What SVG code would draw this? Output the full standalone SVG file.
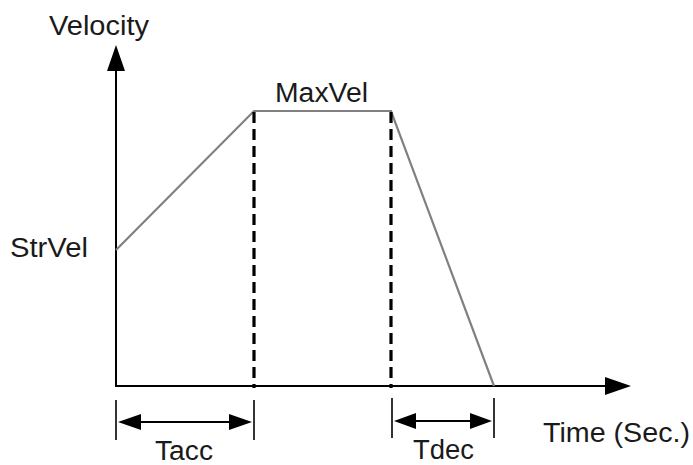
<svg xmlns="http://www.w3.org/2000/svg" width="693" height="465" viewBox="0 0 693 465">
  <style>
    .label { font-family: "Liberation Sans", Arial, sans-serif; font-size: 27px; fill: #1a1a1a; }
    .axis { stroke: #000; stroke-width: 2; fill: none; }
    .profile { stroke: #808080; stroke-width: 2.2; fill: none; stroke-linejoin: miter; }
    .guide { stroke: #000; stroke-width: 3.2; stroke-dasharray: 11 6; fill: none; }
    .tick { stroke: #000; stroke-width: 1.6; fill: none; }
    .dim { stroke: #000; stroke-width: 2; fill: none; }
    .head { fill: #000; }
  </style>
  <rect width="693" height="465" fill="#fff"/>

  <g id="connectors">
    <!-- axes -->
    <g id="axes">
      <line class="axis" x1="116" y1="387" x2="116" y2="68"/>
      <polygon class="head" points="116,45 107,71 125,71"/>
      <line class="axis" x1="116" y1="386" x2="608" y2="386"/>
      <polygon class="head" points="631,386 605,377 605,395"/>
    </g>

    <!-- velocity profile -->
    <polyline id="profile" class="profile" points="116,250 254,111 391,111 494,386"/>

    <!-- phase boundaries -->
    <line class="guide" x1="254" y1="112" x2="254" y2="388"/>
    <line class="guide" x1="391" y1="112" x2="391" y2="388"/>

    <!-- acceleration span -->
    <g id="tacc-span">
      <line class="tick" x1="116" y1="400" x2="116" y2="440"/>
      <line class="tick" x1="254" y1="400" x2="254" y2="440"/>
      <line class="dim" x1="135" y1="422" x2="235" y2="422"/>
      <polygon class="head" points="118,422 141,414 141,430"/>
      <polygon class="head" points="252,422 229,414 229,430"/>
    </g>

    <!-- deceleration span -->
    <g id="tdec-span">
      <line class="tick" x1="392" y1="398" x2="392" y2="438"/>
      <line class="tick" x1="494" y1="398" x2="494" y2="438"/>
      <line class="dim" x1="410" y1="421" x2="476" y2="421"/>
      <polygon class="head" points="394,421 416,413 416,429"/>
      <polygon class="head" points="492,421 470,413 470,429"/>
    </g>
  </g>

  <g id="label-velocity"><text class="label" x="49" y="35" textLength="100" lengthAdjust="spacingAndGlyphs">Velocity</text></g>
  <g id="label-maxvel"><text class="label" x="275" y="102" textLength="93" lengthAdjust="spacingAndGlyphs">MaxVel</text></g>
  <g id="label-strvel"><text class="label" x="10" y="257" textLength="78" lengthAdjust="spacingAndGlyphs">StrVel</text></g>
  <g id="label-tacc"><text class="label" x="155" y="460" textLength="58" lengthAdjust="spacingAndGlyphs">Tacc</text></g>
  <g id="label-tdec"><text class="label" x="413" y="459" textLength="61" lengthAdjust="spacingAndGlyphs">Tdec</text></g>
  <g id="label-time"><text class="label" x="543" y="442" textLength="147" lengthAdjust="spacingAndGlyphs">Time (Sec.)</text></g>
</svg>
